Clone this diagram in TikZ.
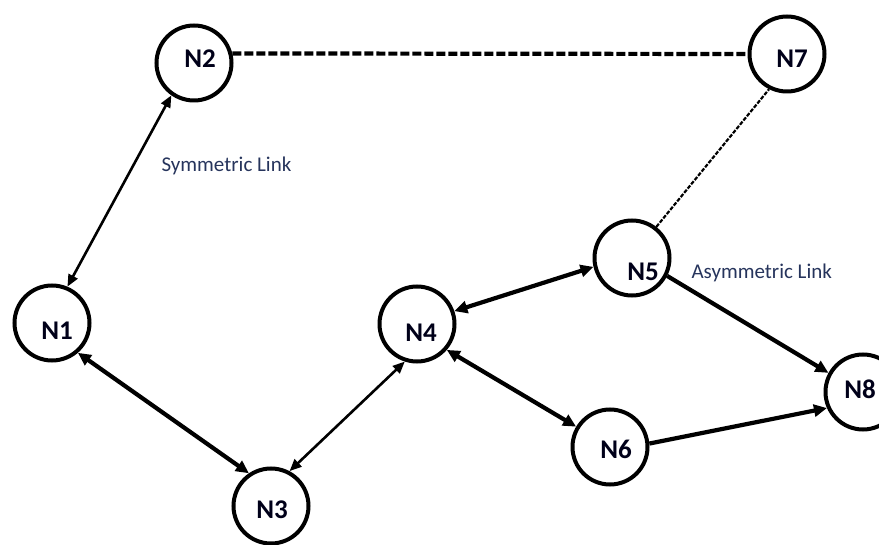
\documentclass[tikz,border=0pt]{standalone}
\usepackage{fontspec}
\setmainfont{Carlito}
\usetikzlibrary{arrows.meta}
\definecolor{linkblue}{RGB}{38,52,92}
\tikzset{
  nd/.style={circle, draw=black, line width=4pt, minimum size=75pt, inner sep=0pt},
  nlab/.style={font=\fontsize{27}{27}\selectfont\bfseries, text=black!90!blue},
  lnk/.style={font=\fontsize{21}{21}\selectfont, text=linkblue, anchor=base west},
  thin/.style={line width=2.6pt, {Triangle[length=12pt,width=10pt]}-{Triangle[length=12pt,width=10pt]}},
  thick/.style={line width=4.2pt, {Triangle[length=13pt,width=12pt]}-{Triangle[length=13pt,width=12pt]}},
  oneway/.style={line width=4.2pt, -{Triangle[length=13pt,width=12pt]}},
  bigdash/.style={line width=4.2pt, dash pattern=on 9pt off 3pt},
  finedash/.style={line width=2.2pt, dash pattern=on 4pt off 1.5pt}
}
\begin{document}
\begin{tikzpicture}[x=1pt,y=-1pt]
\path[use as bounding box] (0,0) rectangle (879,545);
\begin{scope}
\clip (0,0) rectangle (879,545);
\node[nd, label={[nlab, xshift=5pt, yshift=-8pt]center:N1}] (n1) at (52,323) {};
\node[nd, label={[nlab, xshift=6pt, yshift=4pt]center:N2}] (n2) at (194,63) {};
\node[nd, label={[nlab, xshift=1pt, yshift=-4pt]center:N3}] (n3) at (271,506) {};
\node[nd, label={[nlab, xshift=4pt, yshift=-9pt]center:N4}] (n4) at (417,324) {};
\node[nd, label={[nlab, xshift=11pt, yshift=-14pt]center:N5}] (n5) at (632,258) {};
\node[nd, label={[nlab, xshift=6pt, yshift=-2pt]center:N6}] (n6) at (610,447) {};
\node[nd, label={[nlab, xshift=5pt, yshift=-5pt]center:N7}] (n7) at (787,54) {};
\node[nd, label={[nlab, xshift=-3pt, yshift=3pt]center:N8}] (n8) at (863,392) {};

\draw[bigdash] (n2.14) -- (n7.180);
\draw[finedash] (n5.52) -- (n7.243);
\draw[thin] (n1.67) -- (n2.235);
\draw[thick] (n1.-49) -- (n3.124);
\draw[thin] (n3.62) -- (n4.252);
\draw[thick] (n4.19) -- (n5.193);
\draw[thick] (n4.-41) -- (n6.149);
\draw[oneway] (n5.-27) -- (n8.151);
\draw[oneway] (n6.5) -- (n8.204);
\end{scope}

\node[lnk] (sym) at (158,172) {Symmetric Link};
\node[lnk] (asym) at (688,279) {Asymmetric Link};
\end{tikzpicture}
\end{document}
